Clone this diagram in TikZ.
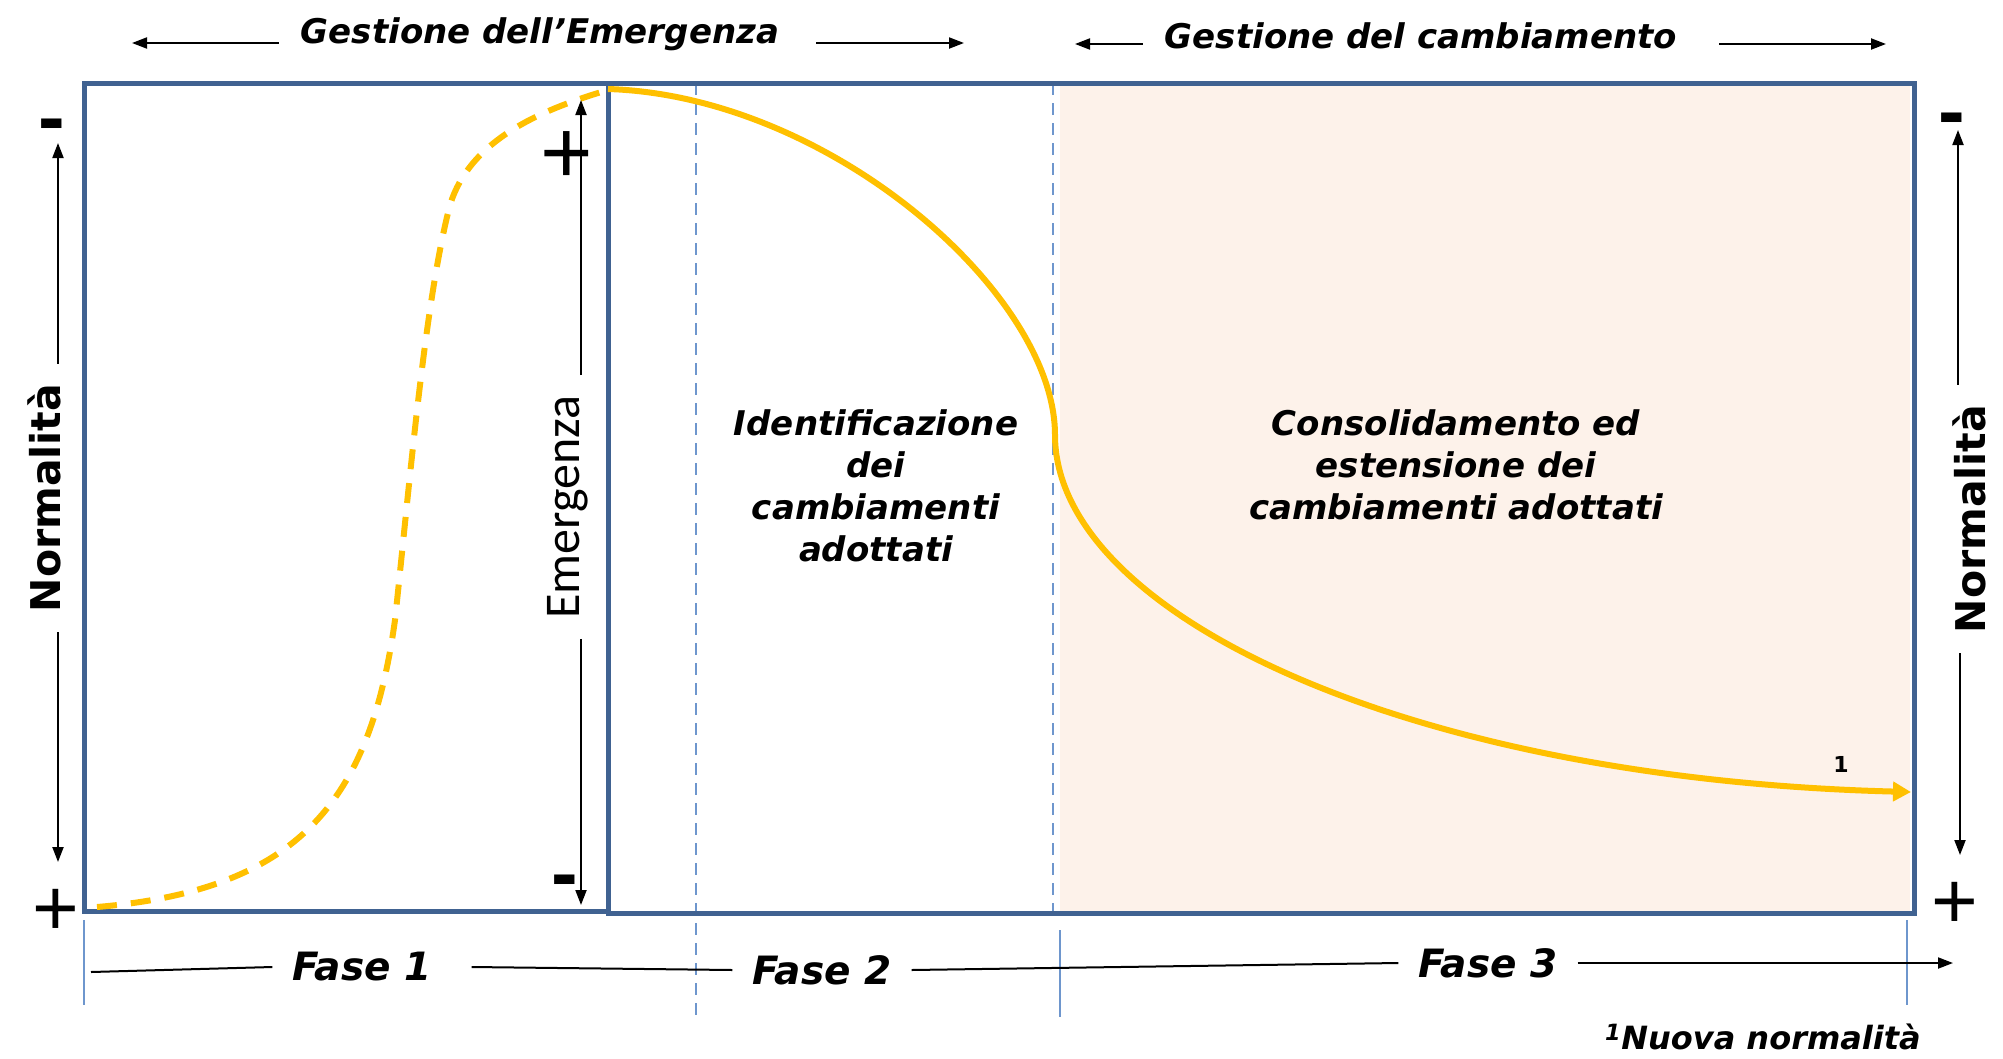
\documentclass[tikz,border=0pt]{standalone}
\usepackage{fontspec}
\setmainfont{DejaVu Sans}[ItalicFont={DejaVu Sans Oblique},BoldItalicFont={DejaVu Sans Bold Oblique}]
\newfontfamily\arialfont{Liberation Sans}
\newfontfamily\calfont{Carlito}
\usetikzlibrary{arrows.meta}
\definecolor{boxblue}{RGB}{64,98,145}
\definecolor{lineblue}{RGB}{110,150,205}
\definecolor{curvegold}{RGB}{255,192,0}
\definecolor{peach}{RGB}{253,242,234}
\begin{document}
\begin{tikzpicture}[x=1pt,y=-1pt,
  ttl/.style={font=\fontsize{34}{40}\selectfont\bfseries\itshape,anchor=base,inner xsep=22pt},
  fase/.style={font=\fontsize{39}{45}\selectfont\bfseries\itshape,inner xsep=20pt},
  blk/.style={font=\fontsize{34}{42}\selectfont\bfseries\itshape,align=center},
  norm/.style={font=\fontsize{41}{41}\selectfont\bfseries,inner sep=20pt},
  emg/.style={font=\calfont\fontsize{50}{50}\selectfont,inner sep=20pt},
  plus/.style={font=\arialfont\fontsize{80}{80}\selectfont,inner sep=0pt},
  minus/.style={font=\arialfont\fontsize{80}{80}\selectfont\bfseries,inner sep=0pt},
  arr/.style={line width=2pt,-{Triangle[length=15pt,width=11pt]}},
  frame/.style={boxblue,line width=5pt},
  guide/.style={lineblue,line width=1.5pt},
  curve/.style={curvegold,line width=6pt}]
\useasboundingbox(0,0)rectangle(2003,1058);
\fill[peach](1060,86)rectangle(1910,911);
\draw[guide,dash pattern=on 12pt off 8pt](696,83)--(696,1017);
\draw[guide,dash pattern=on 12pt off 8pt](1053,83)--(1053,913);
\draw[guide](84,920)--(84,1005);
\draw[guide](1060,930)--(1060,1017);
\draw[guide](1907,920)--(1907,1005);
\draw[frame](84,83)rectangle(608,911);
\draw[frame](608,83)rectangle(1914,913);
\draw[curve,dash pattern=on 20pt off 14pt](97,907)..controls(300,890)and(370,800)..(395,620)..controls(410,480)and(425,300)..(450,205)..controls(470,140)and(540,110)..(608,90);
\draw[curve,-{Triangle[length=18pt,width=19pt]}](608,89)..controls(830,96)and(1055,294)..(1055,435)..controls(1055,613)and(1405,779)..(1911,792);
\node[font=\fontsize{22}{22}\selectfont\bfseries](one)at(1841,764){1};
\node[ttl](gE)at(540,43){Gestione dell’Emergenza};
\coordinate(gEl)at(132,43);
\coordinate(gEr)at(964,43);
\draw[arr](gE.base west)--(gEl);
\draw[arr]([xshift=15pt]gE.base east)--(gEr);
\node[ttl](gC)at(1421,48){Gestione del cambiamento};
\coordinate(gCl)at(1075,44);
\coordinate(gCr)at(1886,44);
\draw[arr]([yshift=4pt]gC.base west)--(gCl);
\draw[arr]([xshift=20pt,yshift=4pt]gC.base east)--(gCr);
\node[norm,rotate=90](normL)at(44,498){Normalità};
\coordinate(topL)at(58,143);
\coordinate(botL)at(58,862);
\draw[arr](normL.east-|topL)--(topL);
\draw[arr](normL.west-|botL)--(botL);
\node[minus](minL)at(52,132){-};
\node[plus](plusL)at(56,912){+};
\node[norm,rotate=90](normR)at(1969,519){Normalità};
\coordinate(topR)at(1958,130);
\coordinate(botR)at(1960,855);
\draw[arr](normR.east-|topR)--(topR);
\draw[arr](normR.west-|botR)--(botR);
\node[minus](minR)at(1952,126){-};
\node[plus](plusR)at(1955,905){+};
\node[emg,rotate=90](emLbl)at(568,507){Emergenza};
\coordinate(emTop)at(581,100);
\coordinate(emBot)at(581,905);
\draw[arr](emLbl.east-|emTop)--(emTop);
\draw[arr](emLbl.west-|emBot)--(emBot);
\node[plus,font=\arialfont\fontsize{90}{90}\selectfont](plusE)at(567,158){+};
\node[minus](minE)at(565,888){-};
\node[blk](idc)at(876,486){Identificazione\\dei\\cambiamenti\\adottati};
\node[blk](cons)at(1456,465){Consolidamento ed\\estensione dei\\cambiamenti adottati};
\node[fase](F1)at(362,967){Fase 1};
\node[fase](F2)at(822,970){Fase 2};
\node[fase](F3)at(1488,963){Fase 3};
\coordinate(fs)at(91,972);
\coordinate(fe)at(1953,963);
\draw[line width=2pt](fs)--(F1.west);
\draw[line width=2pt]([xshift=20pt]F1.east)--(F2.west);
\draw[line width=2pt](F2.east)--(F3.west);
\draw[arr](F3.east)--(fe);
\node[font=\fontsize{32}{32}\selectfont\bfseries\itshape](nn)at(1763,1037){\textsuperscript{1}Nuova normalità};
\end{tikzpicture}
\end{document}
